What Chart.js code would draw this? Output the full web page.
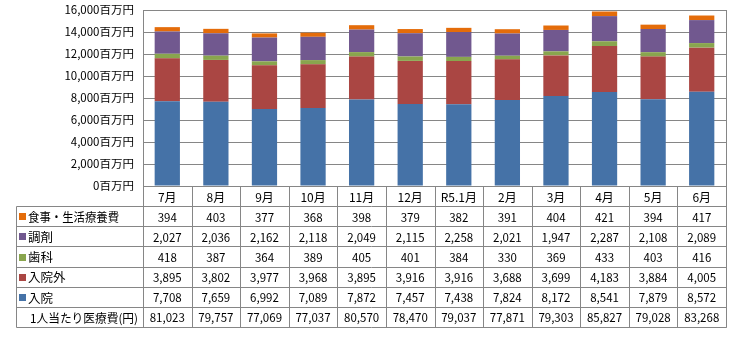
<!DOCTYPE html>
<html><head><meta charset="utf-8">
<script src="https://cdn.jsdelivr.net/npm/chart.js@4/dist/chart.umd.min.js"></script>
<style>html,body{margin:0;padding:0;background:#fff;}canvas{display:block;}</style>
</head><body>
<canvas id="c" width="733" height="340"></canvas>
<script>
const categories = ['7月','8月','9月','10月','11月','12月','R5.1月','2月','3月','4月','5月','6月'];
const nyuin     = [7708,7659,6992,7089,7872,7457,7438,7824,8172,8541,7879,8572];
const nyuingai  = [3895,3802,3977,3968,3895,3916,3916,3688,3699,4183,3884,4005];
const shika     = [418,387,364,389,405,401,384,330,369,433,403,416];
const chozai    = [2027,2036,2162,2118,2049,2115,2258,2021,1947,2287,2108,2089];
const shokuji   = [394,403,377,368,398,379,382,391,404,421,394,417];
const perCapita = [81023,79757,77069,77037,80570,78470,79037,77871,79303,85827,79028,83268];
const yTicks = [0,2000,4000,6000,8000,10000,12000,14000,16000];

const seriesNames = ['入院','入院外','歯科','調剤','食事・生活療養費'];
const seriesData = [nyuin, nyuingai, shika, chozai, shokuji];
const colors = ['#4572A7','#AA4643','#89A54E','#71588F','#E46C0A'];
const tableOrder = [4,3,2,1,0];
const perCapitaLabel = '1人当たり医療費(円)';

const fmt = v => v.toLocaleString('en-US');
const GRID = '#868686';
const CJK = '"Noto Sans CJK JP","Noto Sans",sans-serif';

const tablePlugin = {
  id: 'dataTable',
  afterDraw(chart) {
    const ctx = chart.ctx;
    const ca = chart.chartArea;
    const xs = chart.scales.x;
    const n = categories.length;
    const cw = (ca.right - ca.left) / n;
    const tableLeft = 16;
    const top = ca.bottom;
    const rowH = 20.15;
    const rows = tableOrder.length + 1;
    const bottom = top + rowH * (rows + 1);
    const px = v => Math.round(v) + 0.5;
    ctx.save();
    ctx.strokeStyle = GRID;
    ctx.lineWidth = 1;
    ctx.beginPath();
    ctx.moveTo(px(ca.right), ca.top); ctx.lineTo(px(ca.right), px(bottom));
    ctx.moveTo(ca.left, px(ca.top)); ctx.lineTo(px(ca.right), px(ca.top));
    for (let i = 0; i <= n; i++) {
      const x = px(ca.left + i * cw);
      ctx.moveTo(x, px(top)); ctx.lineTo(x, px(bottom));
    }
    ctx.moveTo(px(tableLeft), px(top + rowH)); ctx.lineTo(px(tableLeft), px(bottom));
    ctx.moveTo(px(ca.left), px(top)); ctx.lineTo(px(ca.right), px(top));
    for (let r = 1; r <= rows + 1; r++) {
      const y = px(top + r * rowH);
      ctx.moveTo(px(tableLeft), y); ctx.lineTo(px(ca.right), y);
    }
    ctx.stroke();

    ctx.fillStyle = '#000';
    ctx.textBaseline = 'middle';
    ctx.textAlign = 'center';
    ctx.font = '12px ' + CJK;
    categories.forEach((c, i) => {
      ctx.fillText(c, xs.getPixelForValue(i), top + rowH / 2 + 1);
    });
    tableOrder.forEach((si, r) => {
      const yc = top + rowH * (r + 1) + rowH / 2 + 1;
      ctx.fillStyle = colors[si];
      ctx.fillRect(19, Math.round(yc) - 4, 7, 7);
      ctx.fillStyle = '#000';
      ctx.textAlign = 'left';
      ctx.font = '12.5px ' + CJK;
      ctx.fillText(seriesNames[si], 28, yc, 91);
      ctx.textAlign = 'center';
      ctx.font = '11.5px ' + CJK;
      seriesData[si].forEach((v, i) => ctx.fillText(fmt(v), xs.getPixelForValue(i), yc));
    });
    const yl = top + rowH * rows + rowH / 2 + 1;
    ctx.textAlign = 'left';
    ctx.font = '12px ' + CJK;
    ctx.fillText(perCapitaLabel, 30, yl, 108);
    ctx.textAlign = 'center';
    ctx.font = '11.5px ' + CJK;
    perCapita.forEach((v, i) => ctx.fillText(fmt(v), xs.getPixelForValue(i), yl));
    ctx.restore();
  }
};

new Chart(document.getElementById('c'), {
  type: 'bar',
  data: {
    labels: categories,
    datasets: seriesNames.map((name, i) => ({
      label: name,
      data: seriesData[i],
      backgroundColor: colors[i],
      borderWidth: 0,
      barPercentage: 0.52,
      categoryPercentage: 1.0
    }))
  },
  options: {
    responsive: false,
    animation: false,
    devicePixelRatio: 1,
    layout: { padding: { left: 0, right: 7, top: 10, bottom: 154 } },
    plugins: { legend: { display: false }, tooltip: { enabled: false } },
    scales: {
      x: {
        stacked: true,
        ticks: { display: false },
        grid: { display: false, drawTicks: false },
        border: { display: true, color: GRID },
        afterFit(s) { s.height = 0; s.paddingLeft = 0; s.paddingRight = 0; }
      },
      y: {
        stacked: true,
        min: 0, max: 16000,
        afterBuildTicks(s) { s.ticks = yTicks.map(v => ({ value: v })); },
        ticks: {
          color: '#000',
          font: { size: 11.5, family: CJK },
          padding: 9,
          callback: v => fmt(v) + '百万円'
        },
        grid: { color: GRID, drawTicks: false },
        border: { display: true, color: GRID },
        afterFit(s) { s.width = 143; s.paddingTop = 0; s.paddingBottom = 0; }
      }
    }
  },
  plugins: [tablePlugin]
});
</script>
</body></html>
